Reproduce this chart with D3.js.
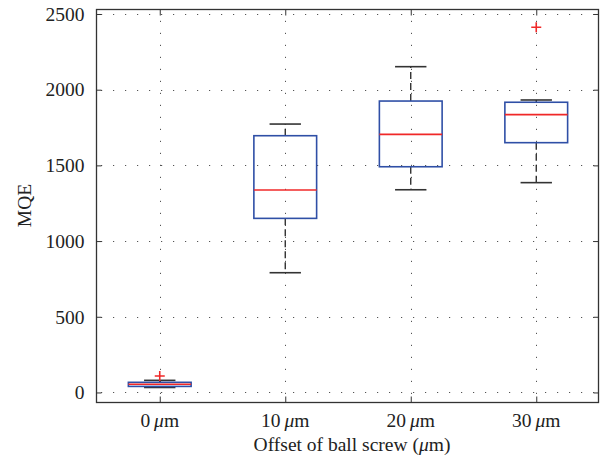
<!DOCTYPE html>
<html>
<head>
<meta charset="utf-8">
<script src="https://cdn.jsdelivr.net/npm/d3@7"></script>
<style>
  html, body { margin: 0; padding: 0; background: #fff; }
  svg { display: block; }
  text { font-family: "Liberation Serif", "Times New Roman", serif; fill: #222; }
</style>
</head>
<body>
<svg id="chart" width="602" height="466"></svg>
<script>
// ---- data ----
const categories = ["0", "10", "20", "30"];           // offset in µm
const lowerWhisker = [33, 791, 1339, 1386];
const q1Values     = [40, 1150, 1491, 1650];
const medians      = [54, 1337, 1705, 1835];
const q3Values     = [67, 1696, 1925, 1917];
const upperWhisker = [80, 1773, 2152, 1932];
const outliers     = [[109], [], [], [2412]];
const yTicks = [0, 500, 1000, 1500, 2000, 2500];
const yLimits = [-63, 2533];

const svg = d3.select("#chart");
const plot = { left: 97, right: 599, top: 9, bottom: 402 };
const fontSize = 19.5;

const x = d3.scaleLinear().domain([0.5, categories.length + 0.5]).range([plot.left, plot.right]);
const y = d3.scaleLinear().domain(yLimits).range([plot.bottom, plot.top]);

const boxes = categories.map((c, i) => ({
  cat: c, pos: i + 1,
  lo: lowerWhisker[i], q1: q1Values[i], med: medians[i], q3: q3Values[i], hi: upperWhisker[i],
  out: outliers[i]
}));

const gridColor = "#555";
// grid lines (dotted)
const grid = svg.append("g");
grid.selectAll("line.h").data(yTicks).join("line")
  .attr("x1", plot.left).attr("x2", plot.right)
  .attr("y1", d => Math.round(y(d)) + 0.5).attr("y2", d => Math.round(y(d)) + 0.5)
  .attr("stroke", gridColor).attr("stroke-width", 1)
  .attr("stroke-dasharray", "1.2,10.8").attr("stroke-dashoffset", -4);
grid.selectAll("line.v").data(boxes).join("line")
  .attr("x1", d => Math.round(x(d.pos)) + 0.5).attr("x2", d => Math.round(x(d.pos)) + 0.5)
  .attr("y1", plot.bottom).attr("y2", plot.top)
  .attr("stroke", gridColor).attr("stroke-width", 1)
  .attr("stroke-dasharray", "1.2,10.8").attr("stroke-dashoffset", -8);

const halfBox = 0.25, halfCap = 0.125;
const g = svg.append("g").selectAll("g").data(boxes).join("g");

// whiskers (dashed)
g.append("line")
  .attr("x1", d => x(d.pos)).attr("x2", d => x(d.pos))
  .attr("y1", d => y(d.q3)).attr("y2", d => y(d.hi))
  .attr("stroke", "#222").attr("stroke-width", 1.3).attr("stroke-dasharray", "7,4");
g.append("line")
  .attr("x1", d => x(d.pos)).attr("x2", d => x(d.pos))
  .attr("y1", d => y(d.q1)).attr("y2", d => y(d.lo))
  .attr("stroke", "#222").attr("stroke-width", 1.3).attr("stroke-dasharray", "7,4");
// caps
g.append("line")
  .attr("x1", d => x(d.pos - halfCap)).attr("x2", d => x(d.pos + halfCap))
  .attr("y1", d => y(d.hi)).attr("y2", d => y(d.hi))
  .attr("stroke", "#333").attr("stroke-width", 1.6);
g.append("line")
  .attr("x1", d => x(d.pos - halfCap)).attr("x2", d => x(d.pos + halfCap))
  .attr("y1", d => y(d.lo)).attr("y2", d => y(d.lo))
  .attr("stroke", "#333").attr("stroke-width", 1.6);
// box
g.append("rect")
  .attr("x", d => x(d.pos - halfBox)).attr("width", d => x(d.pos + halfBox) - x(d.pos - halfBox))
  .attr("y", d => y(d.q3)).attr("height", d => y(d.q1) - y(d.q3))
  .attr("fill", "none").attr("stroke", "#2f4fa6").attr("stroke-width", 1.6);
// median
g.append("line")
  .attr("x1", d => x(d.pos - halfBox)).attr("x2", d => x(d.pos + halfBox))
  .attr("y1", d => y(d.med)).attr("y2", d => y(d.med))
  .attr("stroke", "#f02828").attr("stroke-width", 1.6);
// outliers (+)
g.selectAll("path.out").data(d => d.out.map(v => ({ pos: d.pos, v }))).join("path")
  .attr("d", d => {
    const cx = x(d.pos), cy = y(d.v), s = 5;
    return `M${cx - s},${cy}H${cx + s}M${cx},${cy - s}V${cy + s}`;
  })
  .attr("stroke", "#f02828").attr("stroke-width", 1.6).attr("fill", "none");

// frame
svg.append("rect")
  .attr("x", plot.left - 0.5).attr("y", plot.top + 0.5)
  .attr("width", plot.right - plot.left).attr("height", plot.bottom - plot.top)
  .attr("fill", "none").attr("stroke", "#333").attr("stroke-width", 1.3);

// axes with inward ticks
const yAxisL = d3.axisLeft(y).tickValues(yTicks).tickFormat(d3.format("d"))
  .tickSizeInner(-5).tickSizeOuter(0).tickPadding(12);
const gy = svg.append("g").attr("transform", `translate(${plot.left - 0.5},0)`).call(yAxisL);
gy.select(".domain").remove();
gy.selectAll("line").attr("stroke", "#333");
gy.selectAll("text").attr("font-size", fontSize).attr("fill", "#222")
  .style("font-family", "'Liberation Serif', serif");

const yAxisR = d3.axisRight(y).tickValues(yTicks).tickSizeInner(-5).tickSizeOuter(0).tickFormat("");
const gyr = svg.append("g").attr("transform", `translate(${plot.right - 0.5},0)`).call(yAxisR);
gyr.select(".domain").remove();
gyr.selectAll("line").attr("stroke", "#333");

const xAxisB = d3.axisBottom(x).tickValues(boxes.map(d => d.pos)).tickSizeInner(-6).tickSizeOuter(0).tickFormat("");
const gx = svg.append("g").attr("transform", `translate(0,${plot.bottom + 0.5})`).call(xAxisB);
gx.select(".domain").remove();
gx.selectAll("line").attr("stroke", "#333");

const xAxisT = d3.axisTop(x).tickValues(boxes.map(d => d.pos)).tickSizeInner(-6).tickSizeOuter(0).tickFormat("");
const gxt = svg.append("g").attr("transform", `translate(0,${plot.top + 0.5})`).call(xAxisT);
gxt.select(".domain").remove();
gxt.selectAll("line").attr("stroke", "#333");

// x tick labels with italic µ
const xl = svg.append("g").selectAll("text").data(boxes).join("text")
  .attr("x", d => x(d.pos)).attr("y", 427)
  .attr("text-anchor", "middle").attr("font-size", fontSize);
xl.append("tspan").text(d => d.cat + "\u2009");
xl.append("tspan").attr("font-style", "italic").text("\u03bc");
xl.append("tspan").text("m");

// axis titles
const xt = svg.append("text").attr("x", (plot.left + plot.right) / 2 + 4).attr("y", 451)
  .attr("text-anchor", "middle").attr("font-size", fontSize);
xt.append("tspan").text("Offset of ball screw (");
xt.append("tspan").attr("font-style", "italic").text("\u03bc");
xt.append("tspan").text("m)");

svg.append("text").attr("transform", `translate(31,${(plot.top + plot.bottom) / 2}) rotate(-90)`)
  .attr("text-anchor", "middle").attr("font-size", fontSize).text("MQE");
</script>
</body>
</html>
